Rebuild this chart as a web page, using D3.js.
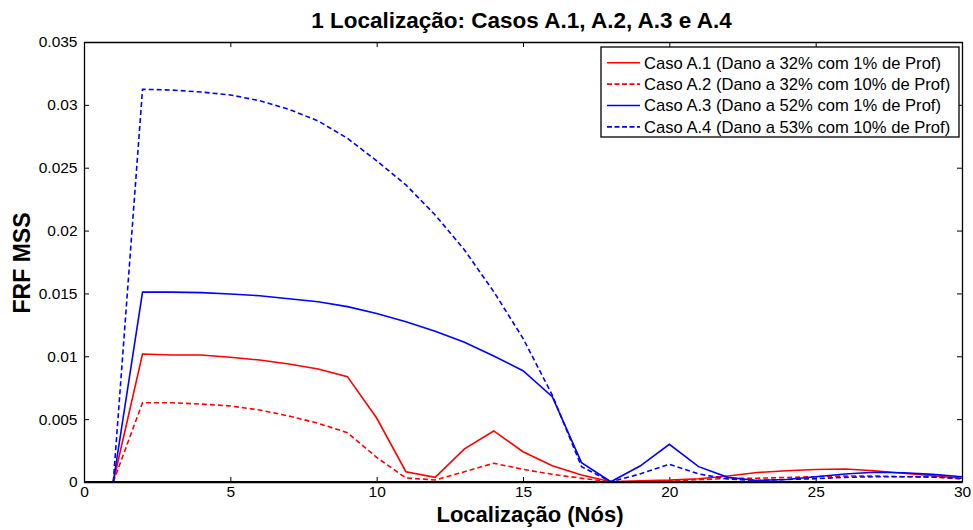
<!DOCTYPE html>
<html>
<head>
<meta charset="utf-8">
<script src="https://cdn.jsdelivr.net/npm/d3@7"></script>
<style>
  html, body { margin: 0; padding: 0; background: #fff; }
  svg { display: block; }
  text { font-family: "Liberation Sans", Arial, sans-serif; }
</style>
</head>
<body>
<svg id="chart" width="973" height="530"></svg>
<script>
const nodes = d3.range(1, 31);
const casoA1 = [0, 0.01018, 0.0101, 0.0101, 0.00992, 0.0097, 0.00939, 0.00899, 0.00838, 0.00509,
  0.00082, 0.00037, 0.00263, 0.00406, 0.00241, 0.0013, 0.00056, 0.00002, 0.0001, 0.00015,
  0.00026, 0.00048, 0.00075, 0.0009, 0.001, 0.00103, 0.0009, 0.00069, 0.0005, 0.0003];
const casoA2 = [0, 0.00631, 0.0063, 0.0062, 0.00605, 0.00573, 0.00525, 0.00467, 0.00392, 0.00196,
  0.00032, 0.00016, 0.00082, 0.00149, 0.00101, 0.00061, 0.0003, 0.00001, 0.00005, 0.0001,
  0.00018, 0.00028, 0.0003, 0.00036, 0.00042, 0.00048, 0.00048, 0.00042, 0.0004, 0.00024];
const casoA3 = [0, 0.01511, 0.0151, 0.01506, 0.01496, 0.01482, 0.01458, 0.01434, 0.01395, 0.0134,
  0.01275, 0.01199, 0.01111, 0.01002, 0.00885, 0.00679, 0.00154, 0.00002, 0.00127, 0.003,
  0.00122, 0.00037, 0.00012, 0.0002, 0.00042, 0.00064, 0.00077, 0.00074, 0.00061, 0.00042];
const casoA4 = [0, 0.03124, 0.03118, 0.03102, 0.03079, 0.03033, 0.02965, 0.02872, 0.02734, 0.02555,
  0.02363, 0.02124, 0.01846, 0.01514, 0.01143, 0.00692, 0.00122, 0.00002, 0.00064, 0.00141,
  0.00064, 0.00024, 0.00012, 0.0002, 0.00026, 0.00037, 0.00042, 0.00042, 0.0004, 0.0003];

const seriesNames = [
  "Caso A.1 (Dano a 32% com 1% de Prof)",
  "Caso A.2 (Dano a 32% com 10% de Prof)",
  "Caso A.3 (Dano a 52% com 1% de Prof)",
  "Caso A.4 (Dano a 53% com 10% de Prof)"
];
const seriesValues = [casoA1, casoA2, casoA3, casoA4];
const seriesColors = ["#ff0000", "#ff0000", "#0000ff", "#0000ff"];
const seriesDashed = [false, true, false, true];

const xTicks = [0, 5, 10, 15, 20, 25, 30];
const yTicks = [0, 0.005, 0.01, 0.015, 0.02, 0.025, 0.03, 0.035];
const yTickLabels = ["0", "0.005", "0.01", "0.015", "0.02", "0.025", "0.03", "0.035"];

const titleText = "1 Localização: Casos A.1, A.2, A.3 e A.4";
const xLabelText = "Localização (Nós)";
const yLabelText = "FRF MSS";

const svg = d3.select("#chart");
const m = { left: 84, top: 42, right: 962, bottom: 482 };

const x = d3.scaleLinear().domain([0, 30]).range([m.left, m.right]);
const y = d3.scaleLinear().domain([0, 0.035]).range([m.bottom, m.top]);

// series
const line = d3.line().x((d, i) => x(nodes[i])).y(d => y(d));
const g = svg.append("g");
seriesValues.forEach((vals, k) => {
  g.append("path")
    .datum(vals)
    .attr("d", line)
    .attr("fill", "none")
    .attr("stroke", seriesColors[k])
    .attr("stroke-width", 1.6)
    .attr("stroke-dasharray", seriesDashed[k] ? "5,3" : null);
});

// axes (ticks inside, MATLAB style)
const tickLen = 5;
const axB = d3.axisBottom(x).tickValues(xTicks).tickSizeInner(-tickLen).tickSizeOuter(0).tickPadding(4);
const axT = d3.axisTop(x).tickValues(xTicks).tickSizeInner(-tickLen).tickSizeOuter(0).tickFormat("");
const axL = d3.axisLeft(y).tickValues(yTicks).tickSizeInner(-tickLen).tickSizeOuter(0).tickPadding(6.5)
  .tickFormat((d, i) => yTickLabels[i]);
const axR = d3.axisRight(y).tickValues(yTicks).tickSizeInner(-tickLen).tickSizeOuter(0).tickFormat("");

function styleAxis(sel, fs) {
  sel.selectAll("path").attr("stroke", "#000").attr("stroke-width", 1.3);
  sel.selectAll("line").attr("stroke", "#000").attr("stroke-width", 1);
  sel.selectAll("text").attr("fill", "#000").style("font-size", fs + "px")
    .style("font-family", "'Liberation Sans', Arial, sans-serif");
}
styleAxis(svg.append("g").attr("transform", `translate(0,${m.bottom})`).call(axB), 15.5);
styleAxis(svg.append("g").attr("transform", `translate(0,${m.top})`).call(axT), 15.5);
styleAxis(svg.append("g").attr("transform", `translate(${m.left},0)`).call(axL), 15.5);
styleAxis(svg.append("g").attr("transform", `translate(${m.right},0)`).call(axR), 15.5);
svg.select("g").raise();
// thicker bottom axis line
svg.append("line").attr("x1", m.left).attr("x2", m.right).attr("y1", m.bottom).attr("y2", m.bottom)
  .attr("stroke", "#000").attr("stroke-width", 2);

// title & labels
svg.append("text").attr("x", 521.5).attr("y", 28)
  .attr("text-anchor", "middle").style("font-weight", "bold").style("font-size", "22.5px")
  .text(titleText);
svg.append("text").attr("x", 530).attr("y", 522)
  .attr("text-anchor", "middle").style("font-weight", "bold").style("font-size", "22px")
  .text(xLabelText);
svg.append("text").attr("transform", `translate(30,263) rotate(-90)`)
  .attr("text-anchor", "middle").style("font-weight", "bold").style("font-size", "23px")
  .text(yLabelText);

// legend
const lg = svg.append("g");
lg.append("rect").attr("x", 601).attr("y", 47).attr("width", 358).attr("height", 90)
  .attr("fill", "#fff").attr("stroke", "#000").attr("stroke-width", 1.3);
seriesNames.forEach((name, k) => {
  const cy = 62.7 + k * 21.4;
  lg.append("line").attr("x1", 607).attr("x2", 640).attr("y1", cy).attr("y2", cy)
    .attr("stroke", seriesColors[k]).attr("stroke-width", 1.6)
    .attr("stroke-dasharray", seriesDashed[k] ? "5,2.5" : null);
  lg.append("text").attr("x", 644).attr("y", cy + 5.8).style("font-size", "16.6px").attr("fill", "#000")
    .text(name);
});
</script>
</body>
</html>
